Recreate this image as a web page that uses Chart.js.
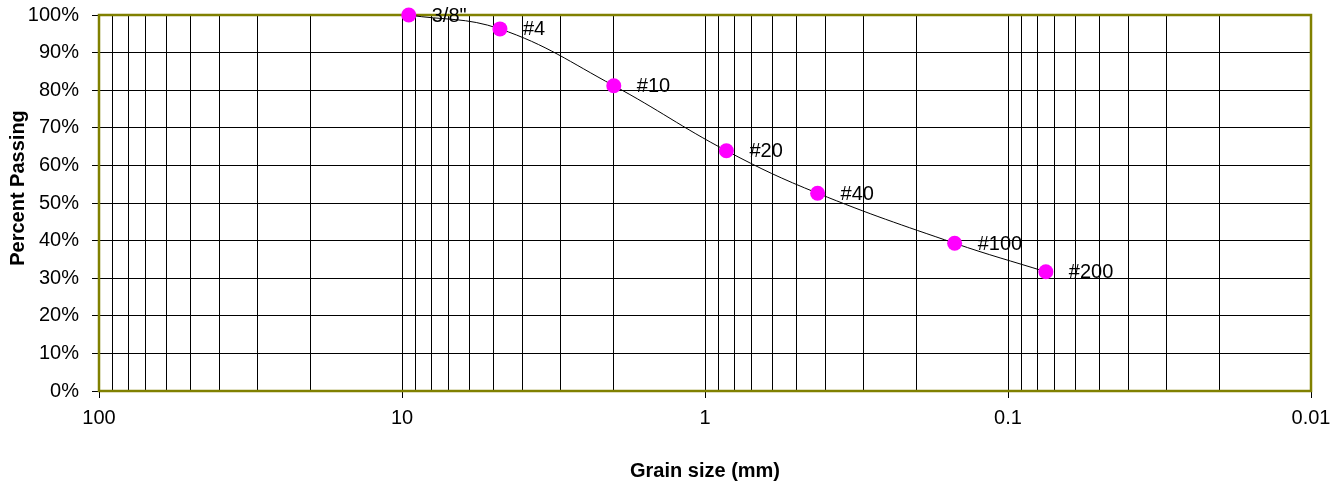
<!DOCTYPE html>
<html>
<head>
<meta charset="utf-8">
<script src="https://cdn.jsdelivr.net/npm/chart.js@4/dist/chart.umd.min.js"></script>
<style>
  html, body { margin: 0; padding: 0; background: #fff; }
  #wrap { width: 1339px; height: 484px; position: relative; }
</style>
</head>
<body>
<div id="wrap"><canvas id="c"></canvas></div>
<script>
// ---- Data ----
const sieveLabels = ['3/8"', '#4', '#10', '#20', '#40', '#100', '#200'];
const grainSizes = [9.5, 4.75, 2.0, 0.85, 0.425, 0.15, 0.075];
const percentPassing = [100, 96.3, 81.2, 63.9, 52.6, 39.3, 31.7];

// ---- Tick labels ----
const xMajorTicks = [100, 10, 1, 0.1, 0.01];
const xMinorMultipliers = [2, 3, 4, 5, 6, 7, 8, 9];
const yTicks = [0, 10, 20, 30, 40, 50, 60, 70, 80, 90, 100];
const xTitle = 'Grain size (mm)';
const yTitle = 'Percent Passing';

const FONT = 'Arial, "Liberation Sans", sans-serif';
Chart.defaults.color = '#000';
Chart.defaults.font.family = FONT;

function isMajor(v) {
  return xMajorTicks.some(m => Math.abs(v - m) / m < 1e-9);
}

const xTickValues = [];
xMajorTicks.forEach(m => {
  xTickValues.push(m);
  if (m > 0.01) xMinorMultipliers.forEach(k => xTickValues.push(k * m / 10));
});
xTickValues.sort((a, b) => a - b);

const frame = {
  id: 'frame',
  beforeDatasetsDraw(chart) {
    const { ctx, chartArea: a } = chart;
    ctx.save();
    ctx.strokeStyle = '#808000';
    ctx.lineWidth = 2.5;
    ctx.strokeRect(a.left, a.top, a.right - a.left, a.bottom - a.top);
    ctx.restore();
  }
};

const pointLabels = {
  id: 'pointLabels',
  afterDatasetsDraw(chart) {
    const { ctx } = chart;
    const meta = chart.getDatasetMeta(0);
    ctx.save();
    ctx.font = '20px ' + FONT;
    ctx.fillStyle = '#000';
    ctx.textAlign = 'left';
    ctx.textBaseline = 'middle';
    meta.data.forEach((pt, i) => {
      ctx.fillText(sieveLabels[i], pt.x + 23, pt.y + 1);
    });
    ctx.restore();
  }
};

// Y-axis title, placed as in the reference (centred a little above the plot centre)
const yAxisTitle = {
  id: 'yAxisTitle',
  afterDraw(chart) {
    const { ctx } = chart;
    ctx.save();
    ctx.font = 'bold 20px ' + FONT;
    ctx.fillStyle = '#000';
    ctx.textAlign = 'center';
    ctx.textBaseline = 'middle';
    ctx.translate(18, 188);
    ctx.rotate(-Math.PI / 2);
    ctx.fillText(yTitle, 0, 0);
    ctx.restore();
  }
};

new Chart(document.getElementById('c'), {
  type: 'line',
  data: {
    datasets: [{
      data: grainSizes.map((x, i) => ({ x, y: percentPassing[i] })),
      borderColor: '#000',
      borderWidth: 1,
      tension: 0.4,
      pointRadius: 7.5,
      pointHoverRadius: 7.5,
      pointBackgroundColor: '#FF00FF',
      pointBorderColor: '#FF00FF',
      pointBorderWidth: 0,
      clip: false
    }]
  },
  options: {
    responsive: true,
    maintainAspectRatio: false,
    animation: false,
    events: [],
    layout: { padding: { top: 15, right: 28, left: 0, bottom: 0 } },
    plugins: { legend: { display: false }, tooltip: { enabled: false } },
    scales: {
      x: {
        type: 'logarithmic',
        reverse: true,
        min: 0.01,
        max: 100,
        afterBuildTicks(scale) {
          scale.ticks = xTickValues.map(v => ({ value: v, major: isMajor(v) }));
        },
        afterFit(scale) { scale.height = 93; },
        ticks: {
          autoSkip: false,
          maxRotation: 0,
          padding: 8,
          font: { size: 20, family: FONT },
          color: '#000',
          callback(v) { return isMajor(v) ? String(v) : ''; }
        },
        grid: {
          color: '#000',
          lineWidth: 1,
          tickLength: 7,
          tickColor: ctx => (ctx.tick && isMajor(ctx.tick.value)) ? '#000' : 'rgba(0,0,0,0)'
        },
        border: { display: false },
        title: {
          display: true,
          text: xTitle,
          font: { size: 20, weight: 'bold', family: FONT },
          color: '#000',
          padding: { top: 0, bottom: 1 }
        }
      },
      y: {
        min: 0,
        max: 100,
        afterBuildTicks(scale) {
          scale.ticks = yTicks.map(v => ({ value: v }));
        },
        afterFit(scale) {
          scale.width = 99;
          scale.paddingTop = 0;
          scale.paddingBottom = 0;
        },
        ticks: {
          padding: 13,
          font: { size: 20, family: FONT },
          color: '#000',
          callback(v) { return v + '%'; }
        },
        grid: {
          color: '#000',
          lineWidth: 1,
          tickLength: 7,
          tickColor: '#000'
        },
        border: { display: false },
        title: { display: false }
      }
    }
  },
  plugins: [frame, pointLabels, yAxisTitle]
});
</script>
</body>
</html>
